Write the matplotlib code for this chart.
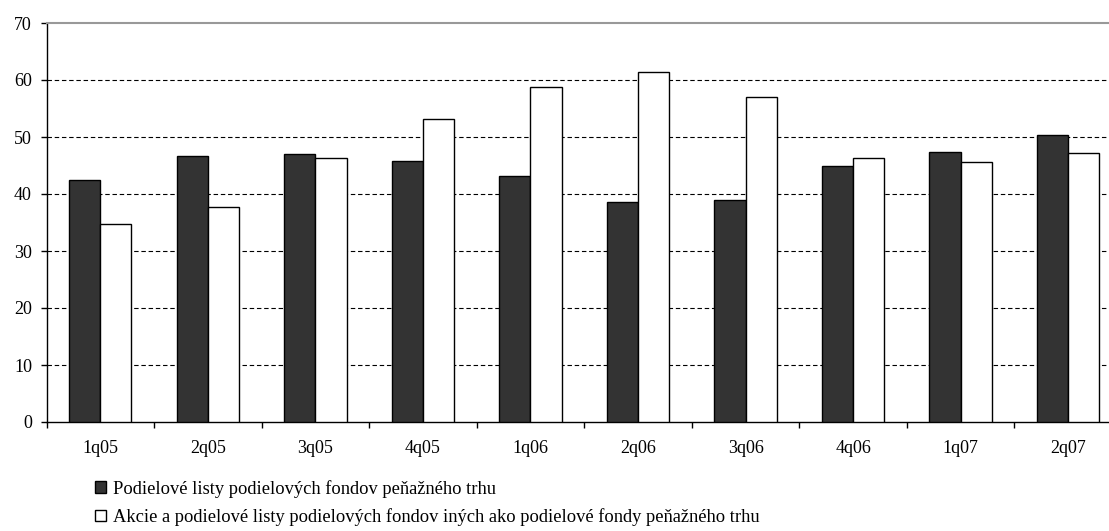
import matplotlib
matplotlib.use("Agg")
import matplotlib.pyplot as plt
import numpy as np

quarters = ["1q05", "2q05", "3q05", "4q05", "1q06", "2q06", "3q06", "4q06", "1q07", "2q07"]
money_market = [42.4, 46.7, 47.0, 45.8, 43.1, 38.6, 38.9, 44.9, 47.3, 50.4]
other_funds = [34.7, 37.8, 46.3, 53.2, 58.8, 61.4, 57.1, 46.3, 45.6, 47.2]
y_ticks = [0, 10, 20, 30, 40, 50, 60, 70]

label_mm = "Podielové listy podielových fondov peňažného trhu"
label_other = "Akcie a podielové listy podielových fondov iných ako podielové fondy peňažného trhu"

plt.rcParams["font.family"] = ["Liberation Serif", "DejaVu Serif"]

W, H = 1109, 531
fig = plt.figure(figsize=(W / 100, H / 100), dpi=100)
left, right, bottom, top = 46.5, 1122, 422, 23
ax = fig.add_axes([left / W, (H - bottom) / H, (right - left) / W, (bottom - top) / H])

x = np.arange(len(quarters))
bw = 0.29
ax.bar(x - bw / 2, money_market, bw, color="#333333", edgecolor="black", linewidth=1.0,
       label=label_mm, zorder=3)
ax.bar(x + bw / 2, other_funds, bw, color="white", edgecolor="black", linewidth=1.0,
       label=label_other, zorder=3)

ax.set_xlim(-0.5, len(quarters) - 0.5)
ax.set_ylim(0, 70)
ax.set_yticks(y_ticks)
ax.set_yticklabels([str(v) for v in y_ticks], fontsize=13)

ax.set_xticks(x)
ax.set_xticklabels(quarters, fontsize=13)
ax.set_xticks(np.arange(len(quarters) + 1) - 0.5, minor=True)
ax.tick_params(axis="x", which="major", length=0, pad=13)
ax.tick_params(axis="x", which="minor", length=4.5, width=1.0, direction="out")
ax.tick_params(axis="y", length=4.5, width=1.0, direction="out", pad=6)

for v in y_ticks[1:-1]:
    ax.axhline(v, color="black", linewidth=0.8, linestyle=(0, (4, 2.5)), zorder=1)

ax.spines["top"].set_color("#999999")
ax.spines["top"].set_linewidth(1.5)
ax.spines["right"].set_visible(False)
ax.spines["left"].set_linewidth(1.0)
ax.spines["bottom"].set_linewidth(1.0)

fig.legend(loc="upper left", bbox_to_anchor=(95 / W, 1 - 480 / H), frameon=False,
           fontsize=13.3, handlelength=0.6, handleheight=0.6, handletextpad=0.4,
           labelspacing=0.55, borderpad=0, borderaxespad=0)

fig.savefig("out.png", dpi=100)
